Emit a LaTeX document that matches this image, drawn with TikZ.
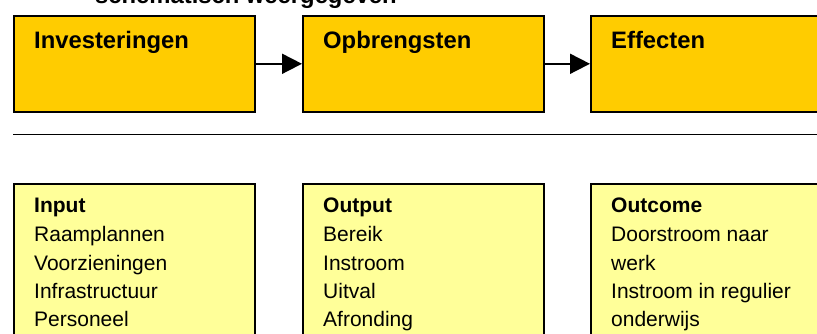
\documentclass[tikz,border=0pt]{standalone}
\usepackage{fontspec}
\setmainfont{Liberation Sans}
\usetikzlibrary{arrows.meta}
\definecolor{gold}{HTML}{FFCC00}
\definecolor{pale}{HTML}{FFFF99}
\tikzset{
  topbox/.style={draw=black, line width=1.6pt, fill=gold, minimum width=241pt, minimum height=96pt, anchor=north west, inner sep=0pt},
  lowbox/.style={draw=black, line width=1.6pt, fill=pale, minimum width=241pt, minimum height=170pt, anchor=north west, inner sep=0pt},
  head/.style={font=\fontsize{23.8}{28}\selectfont\bfseries, anchor=base west, inner sep=0pt},
  sub/.style={font=\fontsize{21}{25}\selectfont\bfseries, anchor=base west, inner sep=0pt},
  body/.style={font=\fontsize{21}{25}\selectfont, anchor=base west, inner sep=0pt},
  flow/.style={line width=1.8pt, -{Triangle[length=20pt,width=20pt]}}
}
\begin{document}
\begin{tikzpicture}[x=1pt,y=-1pt]
\useasboundingbox (0,0) rectangle (817,334);
\clip (0,0) rectangle (817,334);
% title (cut off at the top)
\node[head] (title) at (95,3.5) {schematisch weergegeven};
% top row
\node[topbox] (inv) at (13,15) {};
\node[topbox] (opb) at (302,15) {};
\node[topbox] (eff) at (590,15) {};
\node[head] (tinv) at (34,48.3) {Investeringen};
\node[head] (topb) at (323,48.3) {Opbrengsten};
\node[head] (teff) at (611,48.3) {Effecten};
\draw[flow] (inv.east) -- (opb.west);
\draw[flow] (opb.east) -- (eff.west);
% separator
\coordinate (sepA) at (13,134.7);
\coordinate (sepB) at (830,134.7);
\draw[line width=1.6pt] (sepA) -- (sepB);
% bottom row
\node[lowbox] (inp) at (13,183) {};
\node[lowbox] (out) at (302,183) {};
\node[lowbox] (outc) at (590,183) {};
\node[sub] (hinp) at (34,212.7) {Input};
\node[sub] (hout) at (323,212.7) {Output};
\node[sub] (houtc) at (611,212.7) {Outcome};
\foreach \t [count=\i from 0] in {Raamplannen,Voorzieningen,Infrastructuur,Personeel}
  \node[body] (in\i) at (34,241.7+28.4*\i) {\t};
\foreach \t [count=\i from 0] in {Bereik,Instroom,Uitval,Afronding}
  \node[body] (ou\i) at (323,241.7+28.4*\i) {\t};
\foreach \t [count=\i from 0] in {Doorstroom naar,werk,Instroom in regulier,onderwijs}
  \node[body] (oc\i) at (611,241.7+28.4*\i) {\t};
\end{tikzpicture}
\end{document}
